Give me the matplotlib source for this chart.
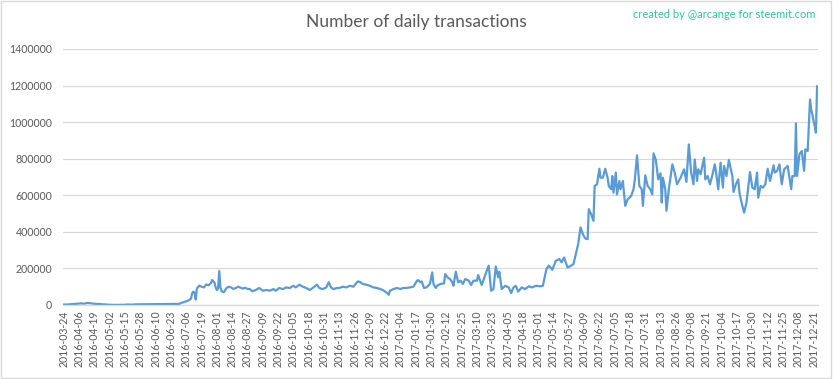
import matplotlib
matplotlib.use("Agg")
import matplotlib.pyplot as plt
from matplotlib.patches import Rectangle
import pandas as pd

start_date = "2016-03-24"

# day offsets from start_date and daily transaction counts
day_offsets = [
    0, 4, 8, 12, 15, 17, 20, 23, 27, 31, 35, 39, 45, 51, 55, 57, 61, 70, 80, 90,
    98, 100, 103, 106, 108, 109, 110, 111, 112, 113, 115, 117, 119, 121, 123, 125,
    126, 128, 129, 130, 131, 132, 133, 134, 136, 138, 140, 142, 144, 146, 148, 150,
    152, 154, 156, 158, 160, 163, 166, 169, 172, 175, 178, 180, 183, 186, 189, 192,
    195, 197, 200, 203, 206, 209, 212, 215, 217, 220, 223, 225, 227, 229, 232, 234,
    237, 240, 243, 246, 249, 250, 252, 254, 257, 260, 263, 266, 269, 271, 274, 276,
    277, 280, 283, 286, 288, 291, 294, 297, 300, 301, 303, 304, 306, 308, 311, 313,
    314, 316, 317, 320, 323, 324, 326, 328, 330, 331, 333, 335, 337, 339, 341, 344,
    346, 348, 351, 352, 355, 358, 361, 363, 365, 367, 369, 370, 372, 375, 378, 380,
    382, 384, 386, 389, 392, 395, 398, 401, 405, 407, 410, 412, 415, 418, 421, 423,
    425, 428, 431, 433, 435, 437, 439, 441, 443, 445, 446, 448, 450, 451, 453, 455,
    456, 458, 460, 462, 463, 465, 466, 467, 469, 470, 472, 473, 475, 476, 477, 479,
    482, 484, 485, 487, 489, 491, 492, 494, 496, 498, 500, 501, 503, 505, 507, 508,
    509, 511, 512, 514, 517, 519, 521, 524, 527, 529, 531, 533, 535, 536, 538, 539,
    541, 544, 545, 547, 549, 551, 553, 554, 556, 558, 560, 561, 563, 565, 568, 569,
    571, 573, 574, 576, 578, 580, 581, 583, 585, 587, 589, 590, 592, 594, 596, 598,
    600, 603, 604, 606, 608, 610, 612, 615, 618, 619, 621, 622, 623, 625, 627, 629,
    630, 632, 634, 635, 636, 637, 638, 639, 640,
]
transactions = [
    2000, 3000, 5000, 7000, 9000, 7000, 11000, 9000, 6000, 5000, 3000, 1000, 500, 1000, 3000, 1500, 3500, 4000, 4500, 5000,
    6000, 12000, 18000, 25000, 35000, 64000, 73000, 68000, 30000, 90000, 106000, 100000, 96000, 112000, 108000, 120000,
    137000, 122000, 95000, 82000, 90000, 186000, 95000, 75000, 70000, 91000, 100000, 96000, 88000, 92000, 100000, 95000,
    90000, 94000, 88000, 87000, 75000, 82000, 93000, 78000, 82000, 78000, 87000, 78000, 93000, 87000, 96000, 93000,
    105000, 96000, 111000, 100000, 93000, 82000, 96000, 111000, 93000, 87000, 96000, 124000, 96000, 87000, 93000, 93000,
    100000, 96000, 105000, 100000, 124000, 129000, 124000, 115000, 111000, 105000, 96000, 93000, 87000, 82000, 69000, 56000,
    78000, 87000, 93000, 87000, 93000, 93000, 96000, 100000, 133000, 136000, 124000, 129000, 93000, 96000, 115000, 178000,
    115000, 93000, 105000, 115000, 118000, 169000, 151000, 142000, 124000, 105000, 182000, 124000, 133000, 115000, 142000, 133000,
    109000, 133000, 133000, 164000, 109000, 164000, 215000, 78000, 87000, 211000, 151000, 182000, 87000, 105000, 96000, 65000,
    96000, 105000, 73000, 96000, 87000, 102000, 96000, 105000, 102000, 105000, 196000, 215000, 193000, 242000, 251000, 233000,
    260000, 205000, 215000, 224000, 278000, 333000, 424000, 387000, 364000, 360000, 524000, 496000, 460000, 651000, 660000, 745000,
    696000, 696000, 745000, 696000, 651000, 633000, 705000, 614000, 724000, 605000, 678000, 633000, 678000, 605000, 542000, 578000,
    596000, 633000, 678000, 818000, 651000, 633000, 542000, 709000, 651000, 636000, 605000, 829000, 793000, 687000, 720000, 560000,
    696000, 633000, 515000, 633000, 769000, 724000, 660000, 696000, 742000, 673000, 878000, 724000, 660000, 796000, 678000, 742000,
    715000, 805000, 687000, 705000, 660000, 709000, 769000, 733000, 633000, 778000, 642000, 760000, 705000, 793000, 705000, 618000,
    660000, 687000, 614000, 556000, 505000, 560000, 614000, 727000, 642000, 633000, 724000, 587000, 651000, 642000, 660000, 745000,
    678000, 764000, 724000, 733000, 769000, 660000, 742000, 760000, 633000, 705000, 705000, 993000, 705000, 824000, 842000, 733000,
    851000, 842000, 1124000, 1069000, 1042000, 1005000, 978000, 942000, 1196000,
]

tick_labels = [
    "2016-03-24", "2016-04-06", "2016-04-19", "2016-05-02", "2016-05-15", "2016-05-28",
    "2016-06-10", "2016-06-23", "2016-07-06", "2016-07-19", "2016-08-01", "2016-08-14",
    "2016-08-27", "2016-09-09", "2016-09-22", "2016-10-05", "2016-10-18", "2016-10-31",
    "2016-11-13", "2016-11-26", "2016-12-09", "2016-12-22", "2017-01-04", "2017-01-17",
    "2017-01-30", "2017-02-12", "2017-02-25", "2017-03-10", "2017-03-23", "2017-04-05",
    "2017-04-18", "2017-05-01", "2017-05-14", "2017-05-27", "2017-06-09", "2017-06-22",
    "2017-07-05", "2017-07-18", "2017-07-31", "2017-08-13", "2017-08-26", "2017-09-08",
    "2017-09-21", "2017-10-04", "2017-10-17", "2017-10-30", "2017-11-12", "2017-11-25",
    "2017-12-08", "2017-12-21",
]
y_ticks = [0, 200000, 400000, 600000, 800000, 1000000, 1200000, 1400000]

title = "Number of daily transactions"
credit = "created by @arcange for steemit.com"

FONT = ["Lato", "DejaVu Sans"]
GRAY = "#595959"

fig = plt.figure(figsize=(8.33, 3.79), dpi=100)
fig.patch.set_facecolor("white")
fig.patches.append(Rectangle((0.001, 0.002), 0.997, 0.995, transform=fig.transFigure,
                             fill=False, edgecolor="#D9D9D9", linewidth=1.0))

ax = fig.add_axes([0.076, 0.1953, 0.9056, 0.6755])
ax.plot(day_offsets, transactions, color="#5B9BD5", linewidth=1.6, solid_joinstyle="round")

t0 = pd.Timestamp(start_date)
tick_pos = [(pd.Timestamp(t) - t0).days for t in tick_labels]
ax.set_xticks(tick_pos)
ax.set_xticklabels(tick_labels, rotation=90, fontsize=7.6, color=GRAY, family=FONT)
ax.set_xlim(-0.5, 640.5)
ax.set_ylim(0, 1400000)
ax.set_yticks(y_ticks)
ax.set_yticklabels([str(v) for v in y_ticks], fontsize=7.6, color=GRAY, family=FONT)
ax.tick_params(axis="both", length=0, pad=4)
ax.tick_params(axis="y", pad=8)
ax.grid(axis="y", color="#D9D9D9", linewidth=0.9)
ax.set_axisbelow(True)
for s in ["top", "right", "left"]:
    ax.spines[s].set_visible(False)
ax.spines["bottom"].set_color("#D9D9D9")
ax.spines["bottom"].set_linewidth(0.9)

fig.text(0.5, 0.942, title, ha="center", va="center", fontsize=12.5, color=GRAY, family=FONT)
fig.text(0.979, 0.962, credit, ha="right", va="center", fontsize=8, color="#2EC4A0", family=FONT)

fig.savefig("out.png", dpi=100)
